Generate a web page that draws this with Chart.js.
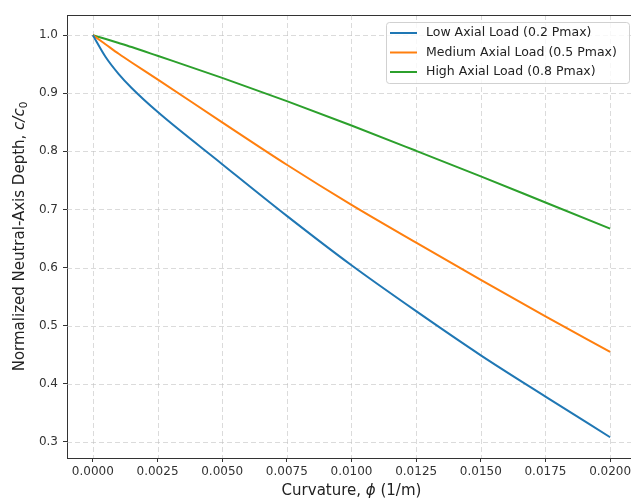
<!DOCTYPE html>
<html>
<head>
<meta charset="utf-8">
<script src="https://cdn.jsdelivr.net/npm/chart.js@4.4.1/dist/chart.umd.min.js"></script>
<style>
    body { margin: 0; background: #fff; overflow: hidden; }
    #wrap { width: 640px; height: 502px; }
</style>
</head>
<body>
<div id="wrap"><canvas id="chart" width="640" height="502"></canvas></div>
<script>
// values
const curvature  = [0, 0.0005, 0.001, 0.0015, 0.0025, 0.005, 0.0075, 0.01, 0.0125, 0.015, 0.0175, 0.02];
const lowLoad    = [1.0, 0.962, 0.933, 0.909, 0.868, 0.778, 0.689, 0.604, 0.525, 0.449, 0.378, 0.308];
const mediumLoad = [1.0, 0.984, 0.968, 0.953, 0.924, 0.850, 0.777, 0.708, 0.643, 0.579, 0.516, 0.455];
const highLoad   = [1.0, 0.9933, 0.9865, 0.9795, 0.9645, 0.9265, 0.8865, 0.8445, 0.801, 0.757, 0.712, 0.667];

const seriesLabels = ['Low Axial Load (0.2 Pmax)', 'Medium Axial Load (0.5 Pmax)', 'High Axial Load (0.8 Pmax)'];
const seriesColors = ['#1f77b4', '#ff7f0e', '#2ca02c'];

const xTicks = [0, 0.0025, 0.005, 0.0075, 0.01, 0.0125, 0.015, 0.0175, 0.02];
const yTicks = [0.3, 0.4, 0.5, 0.6, 0.7, 0.8, 0.9, 1.0];

const FONT = "'DejaVu Sans', sans-serif";

function toPoints(values) {
    return curvature.map((x, i) => ({ x: x, y: values[i] }));
}

// dashed grid, drawn under the lines
const dashedGrid = {
    id: 'dashedGrid',
    beforeDatasetsDraw(chart) {
        const ctx = chart.ctx;
        const area = chart.chartArea;
        const xs = chart.scales.x, ys = chart.scales.y;
        ctx.save();
        ctx.strokeStyle = 'rgba(190,190,190,0.55)';
        ctx.lineWidth = 1;
        ctx.setLineDash([5, 3]);
        xTicks.forEach(v => {
            const px = Math.round(xs.getPixelForValue(v)) + 0.5;
            ctx.beginPath();
            ctx.moveTo(px, area.top);
            ctx.lineTo(px, area.bottom);
            ctx.stroke();
        });
        yTicks.forEach(v => {
            const py = Math.round(ys.getPixelForValue(v)) + 0.5;
            ctx.beginPath();
            ctx.moveTo(area.left, py);
            ctx.lineTo(area.right, py);
            ctx.stroke();
        });
        ctx.restore();
    }
};

// top/right spines, axis titles and legend box
const extras = {
    id: 'extras',
    afterDraw(chart) {
        const ctx = chart.ctx;
        const area = chart.chartArea;
        ctx.save();

        // frame
        ctx.strokeStyle = '#333';
        ctx.lineWidth = 1;
        ctx.beginPath();
        ctx.moveTo(area.left, area.top + 0.5);
        ctx.lineTo(area.right, area.top + 0.5);
        ctx.lineTo(area.right - 0.5, area.bottom);
        ctx.stroke();

        // x title
        ctx.fillStyle = '#222';
        ctx.textBaseline = 'middle';
        const xParts = [['Curvature, ', 'normal'], ['\u03D5', 'italic'], [' (1/m)', 'normal']];
        let total = 0;
        xParts.forEach(p => { ctx.font = p[1] + ' 15px ' + FONT; total += ctx.measureText(p[0]).width; });
        let cx = (area.left + area.right) / 2 - total / 2;
        ctx.textAlign = 'left';
        xParts.forEach(p => {
            ctx.font = p[1] + ' 15px ' + FONT;
            ctx.fillText(p[0], cx, 491);
            cx += ctx.measureText(p[0]).width;
        });

        // y title (rotated)
        ctx.save();
        ctx.translate(20, (area.top + area.bottom) / 2);
        ctx.rotate(-Math.PI / 2);
        const yParts = [['Normalized Neutral-Axis Depth, ', 'normal 15px', 0], ['c/c', 'italic 15px', 0], ['0', 'normal 10.5px', 4]];
        total = 0;
        yParts.forEach(p => { ctx.font = p[1] + ' ' + FONT; total += ctx.measureText(p[0]).width; });
        cx = -total / 2;
        yParts.forEach(p => {
            ctx.font = p[1] + ' ' + FONT;
            ctx.fillText(p[0], cx, p[2]);
            cx += ctx.measureText(p[0]).width;
        });
        ctx.restore();

        // legend
        const lx = 386, ly = 22, lw = 243, lh = 61;
        ctx.fillStyle = 'rgba(255,255,255,0.8)';
        ctx.strokeStyle = 'rgba(204,204,204,0.9)';
        ctx.beginPath();
        ctx.roundRect(lx + 0.5, ly + 0.5, lw, lh, 3);
        ctx.fill();
        ctx.stroke();
        ctx.font = '12.5px ' + FONT;
        ctx.textAlign = 'left';
        ctx.textBaseline = 'middle';
        chart.data.datasets.forEach((ds, i) => {
            const ry = ly + 11 + i * 19.5;
            ctx.strokeStyle = ds.borderColor;
            ctx.lineWidth = 2;
            ctx.beginPath();
            ctx.moveTo(lx + 4, ry);
            ctx.lineTo(lx + 31, ry);
            ctx.stroke();
            ctx.fillStyle = '#222';
            ctx.fillText(ds.label, lx + 40, ry);
        });

        ctx.restore();
    }
};

const gridStyle = {
    drawOnChartArea: false,
    drawTicks: true,
    tickLength: 4,
    tickColor: '#333',
    tickWidth: 1
};

new Chart(document.getElementById('chart'), {
    type: 'scatter',
    data: {
        datasets: [lowLoad, mediumLoad, highLoad].map((vals, i) => ({
            label: seriesLabels[i],
            data: toPoints(vals),
            showLine: true,
            borderColor: seriesColors[i],
            backgroundColor: seriesColors[i],
            borderWidth: 2,
            pointRadius: 0,
            cubicInterpolationMode: 'monotone'
        }))
    },
    options: {
        responsive: false,
        animation: false,
        layout: { padding: { top: 15, right: 4, left: 0, bottom: 0 } },
        plugins: {
            legend: { display: false },
            tooltip: { enabled: false }
        },
        scales: {
            x: {
                type: 'linear',
                min: -0.001,
                max: 0.021,
                afterBuildTicks: axis => { axis.ticks = xTicks.map(v => ({ value: v })); },
                afterFit: axis => { axis.height = 44; },
                ticks: {
                    color: '#333',
                    font: { family: FONT, size: 12 },
                    padding: 3,
                    maxRotation: 0,
                    callback: v => v.toFixed(4)
                },
                grid: gridStyle,
                border: { color: '#333', width: 1 }
            },
            y: {
                type: 'linear',
                min: 0.2723,
                max: 1.0347,
                afterBuildTicks: axis => { axis.ticks = yTicks.map(v => ({ value: v })); },
                afterFit: axis => { axis.width = 67; },
                ticks: {
                    color: '#333',
                    font: { family: FONT, size: 12 },
                    padding: 5,
                    callback: v => v.toFixed(1)
                },
                grid: gridStyle,
                border: { color: '#333', width: 1 }
            }
        }
    },
    plugins: [dashedGrid, extras]
});
</script>
</body>
</html>
